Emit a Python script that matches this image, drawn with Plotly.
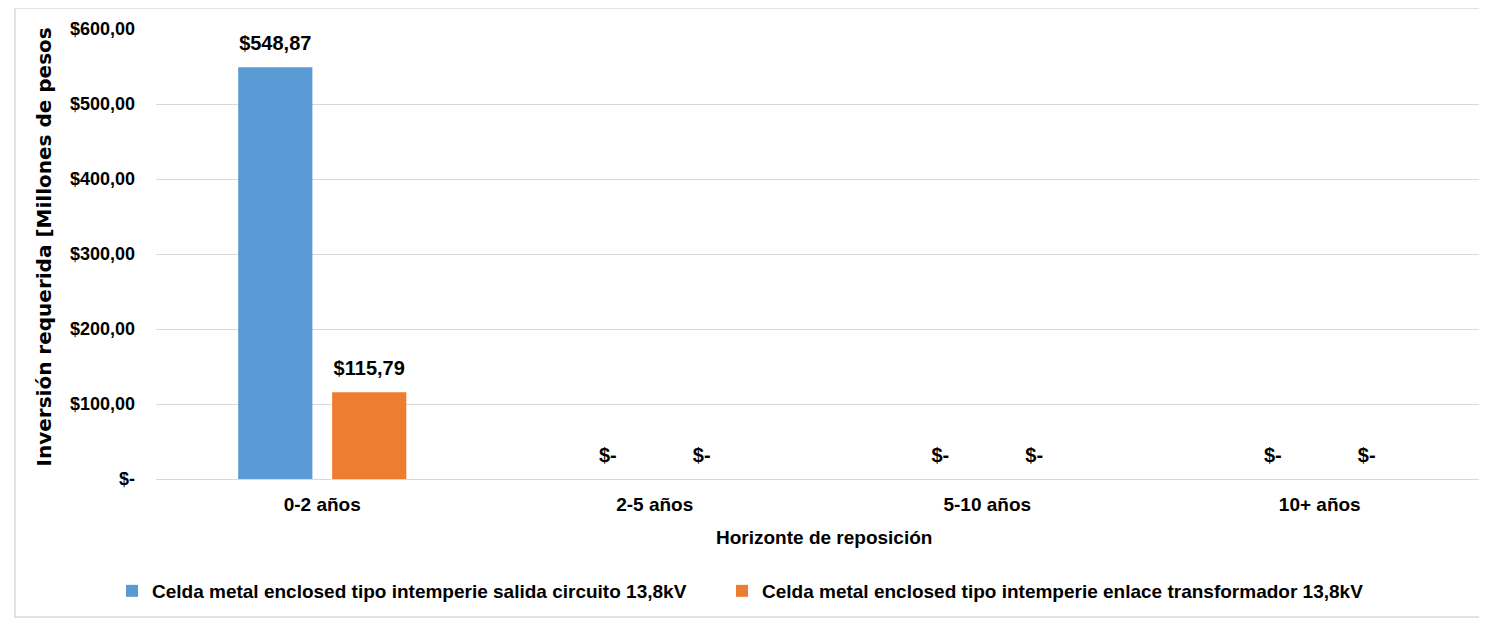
import plotly.graph_objects as go

categories = ["0-2 años", "2-5 años", "5-10 años", "10+ años"]
series_names = [
    "Celda metal enclosed tipo intemperie salida circuito 13,8kV",
    "Celda metal enclosed tipo intemperie enlace transformador 13,8kV",
]
salida_values = [548.87, 0, 0, 0]
enlace_values = [115.79, 0, 0, 0]
y_tick_values = [0, 100, 200, 300, 400, 500, 600]
colors = ["#5B9BD5", "#ED7D31"]

FONT = "Liberation Sans Narrow, Arial Narrow, Liberation Sans, Arial, sans-serif"

W, H = 1487, 610
L, R, T, B = 148, 9, 21, 139
PW, PH = W - L - R, H - T - B


def money(v):
    if v == 0:
        return "$-"
    s = f"{v:,.2f}"
    s = s.replace(",", "X").replace(".", ",").replace("X", ".")
    return "$" + s


fig = go.Figure()
for i, (name, vals, col) in enumerate(zip(series_names, [salida_values, enlace_values], colors)):
    fig.add_trace(go.Bar(
        x=categories, y=vals, name=f"<b>{name}</b>",
        marker=dict(color=col, line=dict(width=0)),
        offsetgroup=str(i), alignmentgroup="a",
        hoverinfo="skip",
        legend="legend" if i == 0 else "legend2",
    ))
for i, vals in enumerate([salida_values, enlace_values]):
    fig.add_trace(go.Scatter(
        x=categories, y=vals, mode="markers+text",
        marker=dict(size=18, opacity=0),
        text=[f"<b>{money(v)}</b>" for v in vals],
        textposition="top center",
        textfont=dict(family=FONT, size=20, color="#000000"),
        offsetgroup=str(i), alignmentgroup="a",
        showlegend=False, hoverinfo="skip", cliponaxis=False,
    ))

legend_y = -(583 - (T + PH)) / PH
legend_font = dict(family=FONT, size=19, color="#000000")

fig.update_layout(
    width=W, height=H,
    paper_bgcolor="white", plot_bgcolor="white",
    margin=dict(l=L, r=R, t=T, b=B, autoexpand=False),
    barmode="group", bargap=0.435, bargroupgap=0.21,
    scattermode="group", scattergap=0.435,
    font=dict(family=FONT, size=18, color="#000000"),
    showlegend=True,
    legend=dict(orientation="h", x=(104 - L) / PW, xanchor="left",
                y=legend_y, yanchor="middle", font=legend_font, itemwidth=30),
    legend2=dict(orientation="h", x=(714 - L) / PW, xanchor="left",
                 y=legend_y, yanchor="middle", font=legend_font, itemwidth=30),
    xaxis=dict(showgrid=False, showline=False, ticks="", automargin=False,
               tickvals=categories, ticktext=[f"<b>{c}</b>" for c in categories],
               ticklabelstandoff=12,
               tickfont=dict(family=FONT, size=19, color="#000000")),
    yaxis=dict(range=[0, 600], tickvals=y_tick_values, automargin=False,
               ticktext=[f"<b>{money(v)}</b>" for v in y_tick_values],
               showgrid=True, gridcolor="#D9D9D9", gridwidth=1,
               zeroline=True, zerolinecolor="#D9D9D9", zerolinewidth=1,
               showline=False, ticks="", ticklabelstandoff=20,
               tickfont=dict(family=FONT, size=18, color="#000000")),
    annotations=[
        dict(text="<b>Inversión requerida [Millones de pesos</b>", xref="paper", yref="paper",
             x=(36 - L) / PW, y=(T + PH - 239.5) / PH, xanchor="center", yanchor="middle",
             textangle=-90, showarrow=False,
             font=dict(family="DejaVu Sans, Verdana, sans-serif", size=20, color="#000000")),
        dict(text="<b>Horizonte de reposición</b>", xref="paper", yref="paper",
             x=(816 - L) / PW, y=(T + PH - 529) / PH, xanchor="center", yanchor="middle",
             showarrow=False,
             font=dict(family=FONT, size=19, color="#000000")),
    ],
    shapes=[dict(type="rect", xref="paper", yref="paper",
                 x0=(7 - L) / PW, x1=(1484 - L) / PW,
                 y0=(T + PH - 609) / PH, y1=(T + PH - 0) / PH,
                 line=dict(color="#D9D9D9", width=1.5), fillcolor="rgba(0,0,0,0)",
                 layer="below")],
)

fig.write_html("out.html")
